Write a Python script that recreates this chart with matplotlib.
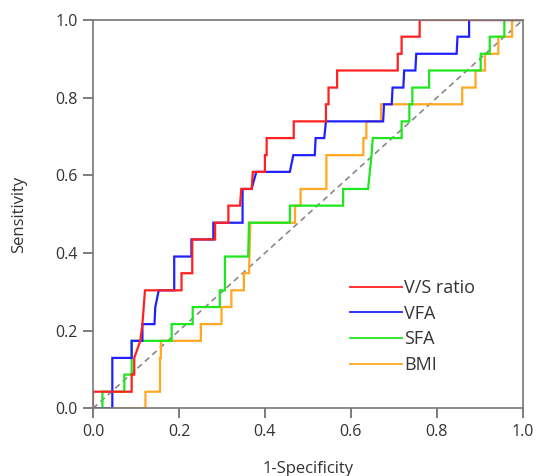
import matplotlib
matplotlib.use("Agg")
import matplotlib.pyplot as plt

plt.rcParams['font.family'] = ['Open Sans', 'DejaVu Sans']

# ROC curves (1-specificity, sensitivity)
vs_fpr = [0.0, 0.0, 0.09, 0.09, 0.096, 0.096, 0.11, 0.115, 0.121, 0.206, 0.206, 0.231, 0.231,
          0.284, 0.284, 0.315, 0.315, 0.342, 0.345, 0.369, 0.372, 0.40, 0.40, 0.404, 0.404,
          0.467, 0.467, 0.542, 0.542, 0.548, 0.548, 0.568, 0.568, 0.709, 0.709, 0.718, 0.718,
          0.76, 0.76, 1.0]
vs_tpr = [0.0, 0.043, 0.043, 0.087, 0.087, 0.13, 0.174, 0.217, 0.304, 0.304, 0.348, 0.348, 0.435,
          0.435, 0.478, 0.478, 0.522, 0.522, 0.565, 0.565, 0.609, 0.609, 0.652, 0.652, 0.696,
          0.696, 0.739, 0.739, 0.783, 0.783, 0.826, 0.826, 0.870, 0.870, 0.913, 0.913, 0.957,
          0.957, 1.0, 1.0]

vfa_fpr = [0.0, 0.045, 0.045, 0.09, 0.09, 0.115, 0.115, 0.143, 0.145, 0.153, 0.189, 0.189,
           0.229, 0.229, 0.28, 0.28, 0.348, 0.348, 0.369, 0.38, 0.458, 0.466, 0.516, 0.518,
           0.538, 0.542, 0.675, 0.677, 0.695, 0.697, 0.722, 0.724, 0.75, 0.752, 0.846, 0.848,
           0.875, 0.875, 1.0]
vfa_tpr = [0.0, 0.0, 0.13, 0.13, 0.174, 0.174, 0.217, 0.217, 0.261, 0.304, 0.304, 0.391,
           0.391, 0.435, 0.435, 0.478, 0.478, 0.565, 0.565, 0.609, 0.609, 0.652, 0.652, 0.696,
           0.696, 0.739, 0.739, 0.783, 0.783, 0.826, 0.826, 0.870, 0.870, 0.913, 0.913, 0.957,
           0.957, 1.0, 1.0]

sfa_fpr = [0.0, 0.022, 0.022, 0.073, 0.073, 0.09, 0.09, 0.183, 0.183, 0.232, 0.232, 0.295,
           0.295, 0.307, 0.307, 0.361, 0.363, 0.458, 0.458, 0.582, 0.582, 0.64, 0.648, 0.651,
           0.718, 0.718, 0.736, 0.736, 0.743, 0.743, 0.782, 0.782, 0.902, 0.902, 0.923, 0.923,
           0.957, 0.957, 1.0]
sfa_tpr = [0.0, 0.0, 0.043, 0.043, 0.087, 0.087, 0.174, 0.174, 0.217, 0.217, 0.261, 0.261,
           0.304, 0.304, 0.391, 0.391, 0.478, 0.478, 0.522, 0.522, 0.565, 0.565, 0.652, 0.696,
           0.696, 0.739, 0.739, 0.783, 0.783, 0.826, 0.826, 0.870, 0.870, 0.913, 0.913, 0.957,
           0.957, 1.0, 1.0]

bmi_fpr = [0.0, 0.122, 0.122, 0.156, 0.156, 0.158, 0.158, 0.251, 0.251, 0.299, 0.299, 0.322,
           0.322, 0.351, 0.351, 0.363, 0.366, 0.47, 0.47, 0.483, 0.483, 0.543, 0.543, 0.629,
           0.629, 0.636, 0.636, 0.67, 0.67, 0.859, 0.859, 0.89, 0.89, 0.912, 0.912, 0.943,
           0.943, 0.975, 0.975, 1.0]
bmi_tpr = [0.0, 0.0, 0.043, 0.043, 0.13, 0.13, 0.174, 0.174, 0.217, 0.217, 0.261, 0.261,
           0.304, 0.304, 0.348, 0.348, 0.478, 0.478, 0.522, 0.522, 0.565, 0.565, 0.652, 0.652,
           0.696, 0.696, 0.739, 0.739, 0.783, 0.783, 0.826, 0.826, 0.870, 0.870, 0.913, 0.913,
           0.957, 0.957, 1.0, 1.0]

labels = ['V/S ratio', 'VFA', 'SFA', 'BMI']
colors = ['#ff2020', '#2020ff', '#20e620', '#ffa820']
ticks = [0.0, 0.2, 0.4, 0.6, 0.8, 1.0]

fig = plt.figure(figsize=(5.39, 4.76), dpi=100)
ax = fig.add_axes([0.1725, 0.142, 0.7975, 0.816])

ax.plot([0, 1], [0, 1], color='#888888', lw=1.2, ls=(0, (3.5, 2.5)), zorder=1)

curves = [(vs_fpr, vs_tpr), (vfa_fpr, vfa_tpr), (sfa_fpr, sfa_tpr), (bmi_fpr, bmi_tpr)]
lines = []
for (fx, fy), lab, col in zip(curves[::-1], labels[::-1], colors[::-1]):
    ln, = ax.plot(fx, fy, color=col, lw=1.6, label=lab, solid_joinstyle='miter')
    lines.append(ln)
lines = lines[::-1]

ax.set_xlim(0, 1)
ax.set_ylim(0, 1)
ax.set_xticks(ticks)
ax.set_yticks(ticks)
ax.set_xticklabels([f'{t:.1f}' for t in ticks])
ax.set_yticklabels([f'{t:.1f}' for t in ticks])
ax.tick_params(direction='out', length=7, width=1.2, color='#666666',
               labelsize=11.5, labelcolor='#333333', pad=4)
for s in ax.spines.values():
    s.set_color('#777777')
    s.set_linewidth(1.2)

ax.set_xlabel('1-Specificity', fontsize=12, color='#333333', labelpad=15)
ax.set_ylabel('Sensitivity', fontsize=12, color='#333333', labelpad=20)

leg = ax.legend(handles=lines, loc='upper left', bbox_to_anchor=(0.58, 0.352),
                frameon=False, fontsize=13, handlelength=2.9, handletextpad=0.12,
                labelspacing=0.43, borderaxespad=0)
for ln in leg.get_lines():
    ln.set_linewidth(1.3)
for t in leg.get_texts():
    t.set_color('#333333')

fig.savefig('out.png', dpi=100)
